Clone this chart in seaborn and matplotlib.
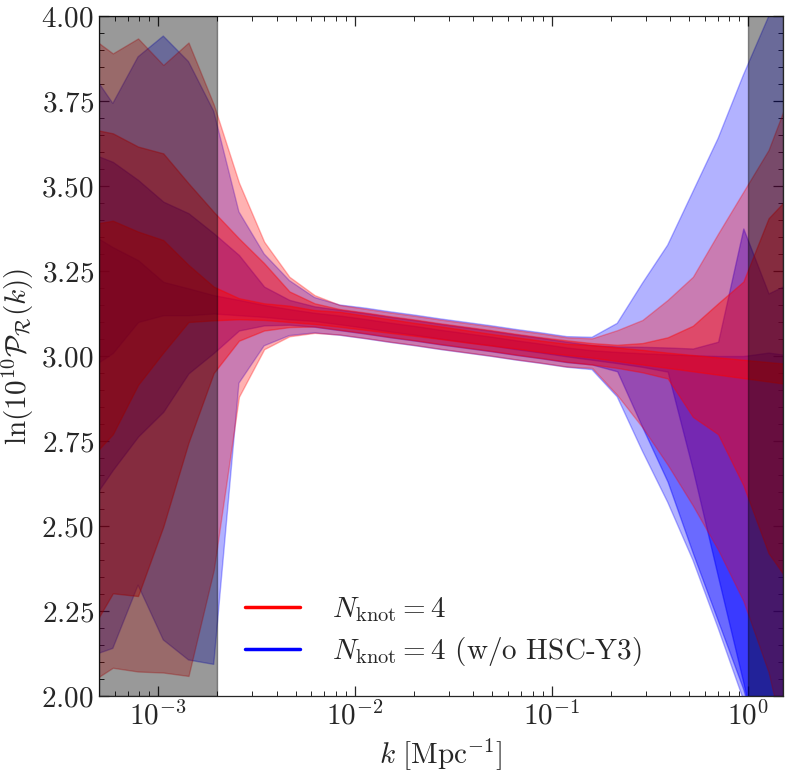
import numpy as np
import pandas as pd
import seaborn as sns
import matplotlib
matplotlib.use("Agg")
import matplotlib.pyplot as plt
from matplotlib.lines import Line2D
from matplotlib.ticker import MultipleLocator, FuncFormatter, LogLocator

# k grid (log-spaced sample points of the reconstruction)
k = np.logspace(-4, 1, 40)[5:34]

# ---- red: N_knot = 4 (bands: outer, middle, inner) ----
red_outer_hi = [3.945, 3.89, 3.934, 3.856, 3.922, 3.74, 3.51, 3.336, 3.233, 3.179, 3.150, 3.139, 3.128, 3.118, 3.107, 3.097, 3.087, 3.076, 3.066, 3.055, 3.052, 3.076, 3.106, 3.165, 3.233, 3.36, 3.483, 3.606, 3.80]
red_outer_lo = [2.035, 2.083, 2.072, 2.069, 2.059, 2.37, 2.88, 3.02, 3.058, 3.068, 3.063, 3.053, 3.042, 3.032, 3.021, 3.011, 3.001, 2.990, 2.980, 2.969, 2.965, 2.885, 2.79, 2.68, 2.56, 2.43, 2.28, 2.07, 1.75]
red_mid_hi = [3.67, 3.655, 3.616, 3.596, 3.508, 3.424, 3.346, 3.273, 3.19, 3.155, 3.138, 3.128, 3.117, 3.107, 3.096, 3.086, 3.076, 3.065, 3.055, 3.046, 3.038, 3.033, 3.038, 3.055, 3.089, 3.155, 3.219, 3.405, 3.484]
red_mid_lo = [2.175, 2.302, 2.294, 2.498, 2.745, 2.95, 3.045, 3.075, 3.085, 3.087, 3.077, 3.067, 3.056, 3.046, 3.035, 3.025, 3.015, 3.004, 2.994, 2.983, 2.975, 2.965, 2.952, 2.934, 2.821, 2.77, 2.62, 2.42, 2.315]
red_in_hi = [3.385, 3.398, 3.366, 3.341, 3.268, 3.204, 3.17, 3.155, 3.148, 3.135, 3.130, 3.119, 3.108, 3.097, 3.087, 3.076, 3.065, 3.055, 3.045, 3.036, 3.032, 3.025, 3.018, 3.010, 3.003, 2.996, 2.989, 2.982, 2.975]
red_in_lo = [2.69, 2.77, 2.915, 3.01, 3.10, 3.105, 3.108, 3.106, 3.10, 3.094, 3.086, 3.077, 3.068, 3.059, 3.050, 3.040, 3.031, 3.022, 3.012, 3.003, 2.995, 2.985, 2.975, 2.965, 2.955, 2.945, 2.935, 2.925, 2.915]

# ---- blue: N_knot = 4 (w/o HSC-Y3) ----
blue_outer_hi = [3.851, 3.743, 3.88, 3.941, 3.866, 3.72, 3.424, 3.30, 3.222, 3.172, 3.150, 3.141, 3.130, 3.120, 3.109, 3.099, 3.089, 3.078, 3.068, 3.057, 3.055, 3.096, 3.214, 3.326, 3.483, 3.640, 3.826, 3.998, 4.17]
blue_outer_lo = [2.114, 2.14, 2.326, 2.165, 2.106, 2.093, 2.92, 3.03, 3.06, 3.068, 3.061, 3.051, 3.040, 3.030, 3.019, 3.009, 2.999, 2.988, 2.978, 2.967, 2.96, 2.88, 2.72, 2.57, 2.40, 2.20, 1.99, 1.65, 1.40]
blue_mid_hi = [3.60, 3.571, 3.518, 3.454, 3.42, 3.361, 3.297, 3.204, 3.165, 3.146, 3.136, 3.126, 3.115, 3.105, 3.094, 3.084, 3.074, 3.063, 3.053, 3.042, 3.032, 3.028, 3.027, 3.025, 3.022, 3.042, 3.375, 3.184, 3.22]
blue_mid_lo = [2.557, 2.665, 2.763, 2.836, 2.949, 3.009, 3.075, 3.09, 3.092, 3.086, 3.076, 3.066, 3.055, 3.045, 3.034, 3.024, 3.014, 3.003, 2.993, 2.982, 2.975, 2.955, 2.79, 2.63, 2.42, 2.22, 2.02, 1.75, 1.5]
blue_in_hi = [3.365, 3.32, 3.282, 3.218, 3.199, 3.179, 3.165, 3.15, 3.138, 3.127, 3.119, 3.109, 3.098, 3.088, 3.077, 3.067, 3.057, 3.046, 3.036, 3.025, 3.017, 3.012, 3.008, 3.005, 3.002, 3.0, 3.0, 3.01, 3.0]
blue_in_lo = [2.96, 3.009, 3.10, 3.12, 3.12, 3.125, 3.12, 3.115, 3.108, 3.103, 3.093, 3.083, 3.072, 3.062, 3.051, 3.041, 3.031, 3.020, 3.010, 2.999, 2.989, 2.979, 2.968, 2.954, 2.665, 2.35, 2.04, 1.70, 1.40]

labels = [r"$N_{\rm knot}=4$", r"$N_{\rm knot}=4$ (w/o HSC-Y3)"]
excluded = [(5e-4, 2e-3), (1.0, 1.5)]

sns.set_style("ticks")
plt.rcParams["font.family"] = "serif"
plt.rcParams["font.serif"] = ["cmr10", "DejaVu Serif"]
plt.rcParams["mathtext.fontset"] = "cm"
plt.rcParams["axes.unicode_minus"] = False
plt.rcParams["axes.formatter.use_mathtext"] = True

fig = plt.figure(figsize=(7.89, 7.74), dpi=100)
ax = fig.add_axes([0.1255, 0.1008, 0.9924 - 0.1255, 0.9793 - 0.1008])

df = pd.DataFrame({
    "k": k,
    "b3l": blue_outer_lo, "b3h": blue_outer_hi,
    "b2l": blue_mid_lo, "b2h": blue_mid_hi,
    "b1l": blue_in_lo, "b1h": blue_in_hi,
    "r3l": red_outer_lo, "r3h": red_outer_hi,
    "r2l": red_mid_lo, "r2h": red_mid_hi,
    "r1l": red_in_lo, "r1h": red_in_hi,
})

alphas = {"3": 0.3, "2": 0.4, "1": 0.45}
for col, pre in (("blue", "b"), ("red", "r")):
    for lev in ("3", "2", "1"):
        ax.fill_between(df["k"], df[pre + lev + "l"], df[pre + lev + "h"],
                        color=col, alpha=alphas[lev], lw=1.0, zorder=2)

for x0, x1 in excluded:
    ax.axvspan(x0, x1, color="k", alpha=0.4, lw=1.0, zorder=3)

ax.set_xscale("log")
ax.set_xlim(5e-4, 1.5)
ax.set_ylim(2.0, 4.0)
ax.yaxis.set_major_locator(MultipleLocator(0.25))
ax.yaxis.set_minor_locator(MultipleLocator(0.05))
ax.yaxis.set_major_formatter(FuncFormatter(lambda v, p: f"${v:.2f}$"))
ax.xaxis.set_minor_locator(LogLocator(base=10, subs=np.arange(2, 10), numticks=20))
ax.tick_params(which="both", direction="in", top=True, right=True, labelsize=21)
ax.tick_params(which="major", length=7, width=0.9)
ax.tick_params(which="minor", length=3.5, width=0.7)
for s in ax.spines.values():
    s.set_linewidth(0.9)

ax.set_xlabel(r"$k\ [\mathrm{Mpc}^{-1}]$", fontsize=21)
ax.set_ylabel(r"$\ln(10^{10}\mathcal{P}_\mathcal{R}(k))$", fontsize=21)

handles = [Line2D([], [], color="red", lw=2.5), Line2D([], [], color="blue", lw=2.5)]
ax.legend(handles, labels, loc="lower left", bbox_to_anchor=(0.175, 0.002),
          frameon=False, fontsize=21, handlelength=1.9, handletextpad=1.1,
          labelspacing=0.4)

fig.savefig("out.png", dpi=100)
